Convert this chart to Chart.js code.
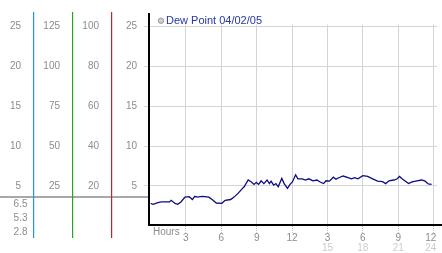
<!DOCTYPE html>
<html>
<head>
<meta charset="utf-8">
<script src="https://cdn.jsdelivr.net/npm/chart.js@4/dist/chart.umd.min.js"></script>
<style>
  html, body { margin: 0; padding: 0; background: #fff; overflow: hidden; }
  #wrap { width: 442px; height: 253px; position: relative; }
</style>
</head>
<body>
<div id="wrap"><canvas id="chart" width="442" height="253"></canvas></div>
<script>
// values
const seriesLabel = 'Dew Point 04/02/05';
const hours = [0, 0.22, 0.63, 0.92, 1.61, 1.75, 2.08, 2.3, 2.58, 2.92, 3.28, 3.55, 3.75, 3.97, 4.38, 4.94,
  5.22, 5.58, 6.05, 6.33, 6.8, 7.08, 7.44, 7.8, 7.94, 8.28, 8.55, 8.78, 8.97, 9.17, 9.38, 9.61, 9.88,
  10.08, 10.22, 10.44, 10.63, 10.83, 11.13, 11.33, 11.61, 11.83, 12.03, 12.3, 12.5, 12.86, 13.13, 13.42,
  13.78, 14.11, 14.38, 14.67, 14.88, 15.17, 15.5, 15.72, 15.92, 16.33, 16.75, 17.03, 17.3, 17.58, 18.0,
  18.42, 18.83, 19.25, 19.67, 19.94, 20.22, 20.63, 20.92, 21.11, 21.33, 21.61, 21.88, 22.17, 22.58,
  23.0, 23.28, 23.55, 23.83];
const dewPoint = [2.8, 2.7, 2.9, 3.0, 3.0, 3.2, 2.8, 2.7, 3.0, 3.6, 3.65, 3.3, 3.7, 3.6, 3.7, 3.6,
  3.3, 2.86, 2.82, 3.2, 3.3, 3.6, 4.1, 4.7, 4.9, 5.75, 5.5, 5.2, 5.45, 5.2, 5.65, 5.3, 5.75,
  5.3, 5.6, 5.1, 5.3, 4.9, 5.95, 5.3, 4.7, 5.2, 5.5, 6.4, 5.9, 5.9, 5.75, 5.9,
  5.65, 5.75, 5.5, 5.3, 5.65, 5.6, 6.1, 5.85, 6.0, 6.25, 6.05, 5.9, 6.05, 5.9, 6.3,
  6.2, 5.9, 5.6, 5.55, 5.3, 5.65, 5.75, 5.9, 6.2, 5.9, 5.6, 5.3, 5.5, 5.65,
  5.75, 5.6, 5.25, 5.2];

const mainTicks = [5, 10, 15, 20, 25];
const cyanTicks = [5, 10, 15, 20, 25];
const greenTicks = [25, 50, 75, 100, 125];
const redTicks = [20, 40, 60, 80, 100];
const hourTicks = [3, 6, 9, 12, 15, 18, 21, 24];
const hourLabels = ['3', '6', '9', '12', '3', '6', '9', '12'];
const pmTicks = [15, 18, 21, 24];
const pmLabels = ['15', '18', '21', '24'];
const statLabels = ['6.5', '5.3', '2.8'];

const yTop = 25.27;
const xEnd = 24.29;
const labelGray = '#8c8c8c';
const font10 = { family: 'Liberation Sans', size: 10, lineHeight: 1 };

function sideAxis(ticks, factor, width, weight) {
  return {
    type: 'linear', position: 'left', display: true, weight: weight,
    min: 0, max: yTop * factor,
    afterBuildTicks: s => { s.ticks = ticks.map(v => ({ value: v })); },
    afterFit: s => { s.width = width; },
    ticks: { color: labelGray, padding: 12, font: font10, callback: v => String(v) },
    grid: { display: false, drawTicks: false },
    border: { display: false }
  };
}

const decorations = {
  id: 'decorations',
  afterDraw(chart) {
    const ctx = chart.ctx;
    const area = chart.chartArea;
    ctx.save();
    // grey separator left of the plot
    ctx.fillStyle = '#a8a8a8';
    ctx.fillRect(0, 196, area.left - 1, 2);
    // coloured axis lines
    [['yCyan', '#1e9ad6'], ['yGreen', '#2f9e2f'], ['yRed', '#c42424']].forEach(([id, col]) => {
      const s = chart.scales[id];
      ctx.fillStyle = col;
      ctx.fillRect(Math.round(s.right), 12, 1.2, 226);
    });
    // black axes
    ctx.fillStyle = '#000';
    ctx.fillRect(area.left - 2.5, 13, 2, area.bottom - 13);
    ctx.fillRect(area.left - 2.5, area.bottom - 1.8, chart.width, 2);
    // stats under first column
    ctx.font = '10px "Liberation Sans"';
    ctx.fillStyle = labelGray;
    ctx.textAlign = 'right';
    ctx.textBaseline = 'middle';
    [204.3, 218.3, 232.7].forEach((y, i) => ctx.fillText(statLabels[i], 27.5, y));
    // x axis caption
    ctx.textAlign = 'left';
    ctx.fillText('Hours', 153, 232);
    // legend
    ctx.beginPath();
    ctx.arc(161, 20.7, 2.7, 0, Math.PI * 2);
    ctx.fillStyle = '#cfcfcf';
    ctx.fill();
    ctx.strokeStyle = '#999';
    ctx.lineWidth = 1;
    ctx.stroke();
    ctx.font = '11px "Liberation Sans"';
    ctx.fillStyle = '#2535a8';
    ctx.fillText(chart.data.datasets[0].label, 166, 21);
    ctx.restore();
  }
};

new Chart(document.getElementById('chart'), {
  type: 'line',
  data: {
    datasets: [{
      label: seriesLabel,
      data: hours.map((h, i) => ({ x: h, y: dewPoint[i] })),
      borderColor: '#0c0c80',
      borderWidth: 1.3,
      pointRadius: 0,
      tension: 0,
      fill: false,
      xAxisID: 'x',
      yAxisID: 'y'
    }]
  },
  options: {
    responsive: false,
    devicePixelRatio: 1,
    animation: false,
    layout: { padding: { top: 24.5, right: 0, left: 0, bottom: 0 }, autoPadding: false },
    plugins: { legend: { display: false }, tooltip: { enabled: false } },
    scales: {
      x: {
        type: 'linear', position: 'bottom', min: 0, max: xEnd,
        afterBuildTicks: s => { s.ticks = hourTicks.map(v => ({ value: v })); },
        afterFit: s => { s.height = 17; },
        ticks: {
          color: labelGray, padding: 0, font: font10, maxRotation: 0, autoSkip: false,
          callback: v => {
            const lab = hourLabels[hourTicks.indexOf(v)];
            return v === 24 ? lab + '  ' : lab;
          }
        },
        grid: { color: '#d4d4d4', lineWidth: 1, tickLength: 7, tickColor: '#b8b8b8', tickBorderDash: [1, 1] },
        border: { display: false }
      },
      x2: {
        type: 'linear', position: 'bottom', min: 0, max: xEnd, display: true,
        afterBuildTicks: s => { s.ticks = pmTicks.map(v => ({ value: v })); },
        afterFit: s => { s.height = 10.2; },
        ticks: {
          color: '#cccccc', padding: 0, font: font10, maxRotation: 0, autoSkip: false,
          callback: v => {
            const lab = pmLabels[pmTicks.indexOf(v)];
            return v === 24 ? lab + '  ' : lab;
          }
        },
        grid: { display: false, drawTicks: false },
        border: { display: false }
      },
      y: {
        type: 'linear', position: 'left', weight: 1, min: 0, max: yTop,
        afterBuildTicks: s => { s.ticks = mainTicks.map(v => ({ value: v })); },
        afterFit: s => { s.width = 39.5; },
        ticks: { color: labelGray, padding: 7.5, font: font10, callback: v => String(v) },
        grid: { color: '#d4d4d4', lineWidth: 1, tickLength: 6, tickColor: '#b0b0b0', tickBorderDash: [1, 1] },
        border: { display: false }
      },
      yRed: sideAxis(redTicks, 4, 39, 2),
      yGreen: sideAxis(greenTicks, 5, 39, 3),
      yCyan: sideAxis(cyanTicks, 1, 33, 4)
    }
  },
  plugins: [decorations]
});
</script>
</body>
</html>
